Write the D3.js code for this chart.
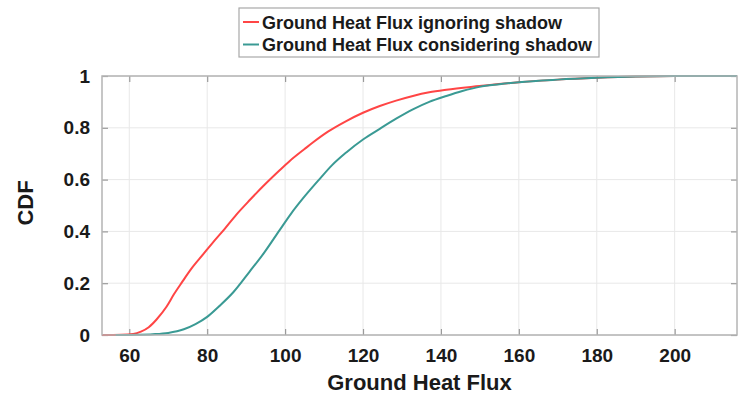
<!DOCTYPE html>
<html>

<head>
    <meta charset="UTF-8">
    <title>Ground Heat Flux CDF</title>
    <script src="https://d3js.org/d3.v7.min.js"></script>
    <style>
        body {
            margin: 0;
            background: #fff;
            font-family: "Liberation Sans", Arial, sans-serif;
        }

        .tick-label {
            font-size: 19px;
            font-weight: bold;
            fill: #1a1a1a;
        }
    </style>
</head>

<body>
    <div id="chart"></div>
    <script>
        // values
        const ignoringX = [53, 58, 61, 63, 65, 67, 69.6, 71.5, 73.5, 76, 79, 81.5, 84.5, 87.5, 91, 94.4, 98.6, 101.2, 105, 107.2, 111, 115.7, 120, 124.3, 128.5, 132.8, 137, 141.4, 149.9, 160, 170, 180, 190, 200, 216];
        const ignoringY = [0, 0.001, 0.004, 0.013, 0.03, 0.06, 0.11, 0.158, 0.203, 0.257, 0.312, 0.358, 0.41, 0.465, 0.522, 0.575, 0.636, 0.672, 0.718, 0.744, 0.785, 0.826, 0.858, 0.884, 0.905, 0.923, 0.937, 0.947, 0.961, 0.976, 0.986, 0.993, 0.998, 1, 1];
        const consideringX = [56.5, 62, 66, 70, 74, 77, 80, 83, 86.7, 90.9, 94.5, 98.6, 101.5, 105, 108.9, 112, 115.7, 120, 124.3, 128.5, 132.8, 137, 141.4, 145.5, 149.9, 155, 160, 170, 180, 190, 200, 216];
        const consideringY = [0, 0.001, 0.003, 0.008, 0.022, 0.042, 0.07, 0.11, 0.165, 0.245, 0.315, 0.405, 0.468, 0.535, 0.603, 0.655, 0.705, 0.755, 0.796, 0.835, 0.871, 0.9, 0.923, 0.942, 0.958, 0.968, 0.976, 0.986, 0.993, 0.998, 1, 1];
        const xTicks = [60, 80, 100, 120, 140, 160, 180, 200];
        const yTicks = [0, 0.2, 0.4, 0.6, 0.8, 1];
        const seriesNames = ["Ground Heat Flux ignoring shadow", "Ground Heat Flux considering shadow"];
        const seriesColors = ["#ff4545", "#3a9a94"];

        const width = 747;
        const height = 396;
        const plotLeft = 102, plotRight = 737, plotTop = 76, plotBottom = 335;

        const svg = d3.select('#chart')
            .append('svg')
            .attr('width', width)
            .attr('height', height);

        const xScale = d3.scaleLinear()
            .domain([53, 216])
            .range([plotLeft, plotRight]);

        const yScale = d3.scaleLinear()
            .domain([0, 1])
            .range([plotBottom, plotTop]);

        // grid
        svg.append('g')
            .selectAll('line')
            .data(xTicks)
            .join('line')
            .attr('x1', d => xScale(d)).attr('x2', d => xScale(d))
            .attr('y1', plotTop).attr('y2', plotBottom)
            .attr('stroke', '#e8e8e8');
        svg.append('g')
            .selectAll('line')
            .data(yTicks)
            .join('line')
            .attr('x1', plotLeft).attr('x2', plotRight)
            .attr('y1', d => yScale(d)).attr('y2', d => yScale(d))
            .attr('stroke', '#e8e8e8');

        // inward ticks on all four sides, matlab style
        const xAxisB = d3.axisBottom(xScale).tickValues(xTicks).tickSizeInner(-6).tickSizeOuter(0).tickPadding(14);
        const xAxisT = d3.axisTop(xScale).tickValues(xTicks).tickSizeInner(-6).tickSizeOuter(0).tickFormat('');
        const yAxisL = d3.axisLeft(yScale).tickValues(yTicks).tickSizeInner(-6).tickSizeOuter(0).tickPadding(12).tickFormat(d3.format('~g'));
        const yAxisR = d3.axisRight(yScale).tickValues(yTicks).tickSizeInner(-6).tickSizeOuter(0).tickFormat('');

        const axes = [
            svg.append('g').attr('transform', `translate(0, ${plotBottom})`).call(xAxisB),
            svg.append('g').attr('transform', `translate(0, ${plotTop})`).call(xAxisT),
            svg.append('g').attr('transform', `translate(${plotLeft}, 0)`).call(yAxisL),
            svg.append('g').attr('transform', `translate(${plotRight}, 0)`).call(yAxisR)
        ];
        axes.forEach(g => {
            g.attr('font-family', null).attr('font-size', null);
            g.select('.domain').remove();
            g.selectAll('.tick line').attr('stroke', '#9a9a9a').attr('stroke-width', 1.2);
            g.selectAll('.tick text').attr('class', 'tick-label');
        });

        const line = d3.line()
            .x(d => xScale(d[0]))
            .y(d => yScale(d[1]))
            .curve(d3.curveMonotoneX);

        const series = [
            d3.zip(ignoringX, ignoringY),
            d3.zip(consideringX, consideringY)
        ];

        svg.append('g')
            .selectAll('path')
            .data(series)
            .join('path')
            .attr('fill', 'none')
            .attr('stroke', (d, i) => seriesColors[i])
            .attr('stroke-width', 2)
            .attr('d', line);

        // plot box
        svg.append('rect')
            .attr('x', plotLeft).attr('y', plotTop)
            .attr('width', plotRight - plotLeft).attr('height', plotBottom - plotTop)
            .attr('fill', 'none')
            .attr('stroke', '#b4b4b4')
            .attr('stroke-width', 1.5);

        // axis titles
        svg.append('text')
            .attr('x', (plotLeft + plotRight) / 2)
            .attr('y', 390)
            .attr('text-anchor', 'middle')
            .attr('font-size', 22)
            .attr('font-weight', 'bold')
            .attr('fill', '#1a1a1a')
            .text('Ground Heat Flux');

        svg.append('text')
            .attr('transform', 'translate(33, 203) rotate(-90)')
            .attr('text-anchor', 'middle')
            .attr('font-size', 22)
            .attr('font-weight', 'bold')
            .attr('fill', '#1a1a1a')
            .text('CDF');

        // legend
        const legend = svg.append('g');
        legend.append('rect')
            .attr('x', 239).attr('y', 8)
            .attr('width', 360).attr('height', 49)
            .attr('fill', '#fff')
            .attr('stroke', '#a8a8a8')
            .attr('stroke-width', 1.2);
        const items = legend.selectAll('g.item')
            .data(seriesNames)
            .join('g')
            .attr('class', 'item')
            .attr('transform', (d, i) => `translate(0, ${22 + i * 22.5})`);
        items.append('line')
            .attr('x1', 243).attr('x2', 259)
            .attr('stroke', (d, i) => seriesColors[i])
            .attr('stroke-width', 2);
        items.append('text')
            .attr('x', 262)
            .attr('y', 6.5)
            .attr('font-size', 18)
            .attr('font-weight', 'bold')
            .attr('fill', '#1a1a1a')
            .text(d => d);
    </script>
</body>

</html>
